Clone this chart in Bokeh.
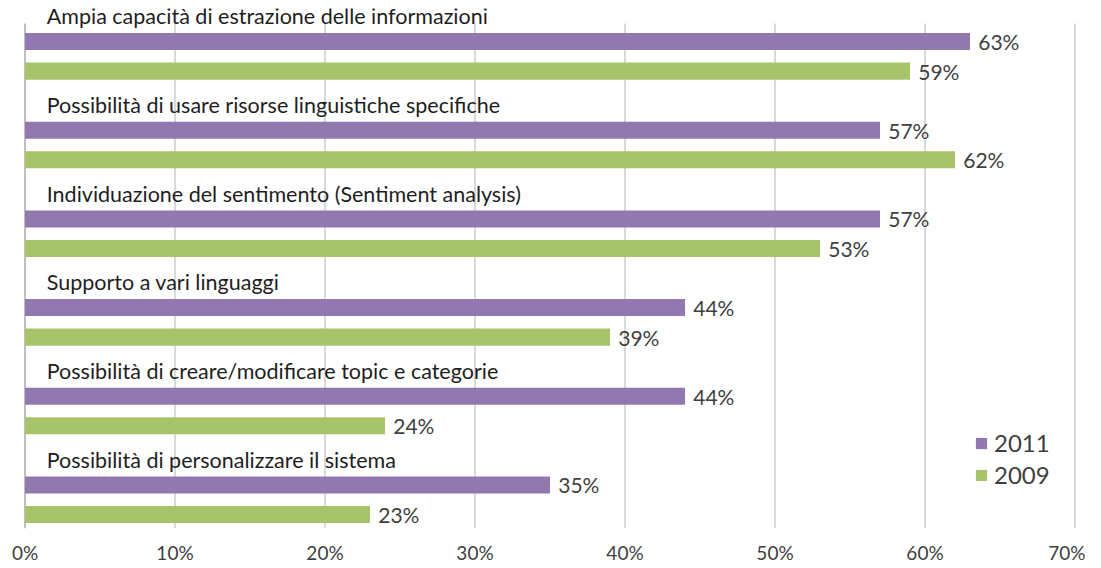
from bokeh.plotting import figure
from bokeh.models import (ColumnDataSource, Range1d, FixedTicker, PrintfTickFormatter,
                          Legend, LegendItem)
from bokeh.core.properties import value
from bokeh.embed import file_html
from bokeh.resources import INLINE

# ---- data ----
categories = [
    "Ampia capacità di estrazione delle informazioni",
    "Possibilità di usare risorse linguistiche specifiche",
    "Individuazione del sentimento (Sentiment analysis)",
    "Supporto a vari linguaggi",
    "Possibilità di creare/modificare topic e categorie",
    "Possibilità di personalizzare il sistema",
]
values_2011 = [63, 57, 57, 44, 44, 35]
values_2009 = [59, 62, 53, 39, 24, 23]
series_names = ["2011", "2009"]
x_ticks = [0, 10, 20, 30, 40, 50, 60, 70]

PURPLE = "#9179B0"
GREEN = "#A8C46A"
FONT = "Lato"

idx = list(range(len(categories)))
off = 0.1667
src11 = ColumnDataSource(dict(
    y=[i - off for i in idx], v=values_2011,
    lx=[v + 0.55 for v in values_2011], lab=[f"{v}%" for v in values_2011]))
src09 = ColumnDataSource(dict(
    y=[i + off for i in idx], v=values_2009,
    lx=[v + 0.55 for v in values_2009], lab=[f"{v}%" for v in values_2009]))
srccat = ColumnDataSource(dict(y=[i - 0.45 for i in idx], x=[1.45] * len(idx), t=categories))

W, H = 1085, 566
p = figure(width=W, height=H, output_backend="svg", toolbar_location=None,
           x_range=Range1d(-0.5, 70.5), y_range=Range1d(5.325, -0.5395),
           min_border_left=17, min_border_right=3, min_border_top=8, min_border_bottom=0)
p.outline_line_color = None
p.xgrid.visible = False
p.ygrid.visible = False
p.yaxis.visible = False

# gridlines and left axis line
grid_top = -0.37
p.segment(x0=x_ticks[1:], x1=x_ticks[1:], y0=[grid_top] * 7, y1=[5.325] * 7,
          line_color="#D9D9D9", line_width=2)
p.segment(x0=[0], x1=[0], y0=[grid_top], y1=[5.325], line_color="#BFBFBF", line_width=2)

r11 = p.hbar(y="y", right="v", left=0, height=0.192, source=src11,
             fill_color=PURPLE, line_color=None)
r09 = p.hbar(y="y", right="v", left=0, height=0.192, source=src09,
             fill_color=GREEN, line_color=None)

p.text(x="lx", y="y", text="lab", source=src11, text_font=value(FONT),
       text_font_size="21px", text_color="#404040", text_baseline="middle")
p.text(x="lx", y="y", text="lab", source=src09, text_font=value(FONT),
       text_font_size="21px", text_color="#404040", text_baseline="middle")
p.text(x="x", y="y", text="t", source=srccat, text_font=value(FONT),
       text_font_size="21.5px", text_color="#1E1E1E", text_baseline="middle")

ax = p.xaxis[0]
ax.ticker = FixedTicker(ticks=x_ticks)
ax.formatter = PrintfTickFormatter(format="%d%%")
ax.axis_line_color = None
ax.major_tick_line_color = None
ax.minor_tick_line_color = None
ax.major_label_standoff = 6
ax.major_label_text_font = FONT
ax.major_label_text_font_size = "19px"
ax.major_label_text_color = "#404040"

legend = Legend(items=[LegendItem(label=series_names[0], renderers=[r11]),
                       LegendItem(label=series_names[1], renderers=[r09])],
                location=(957, 39), glyph_width=14, glyph_height=14,
                label_text_font=FONT, label_text_font_size="24px",
                label_text_color="#404040", label_height=24, spacing=3,
                padding=0, margin=0, label_standoff=6,
                border_line_color=None, background_fill_alpha=0)
p.add_layout(legend)

open("out.html", "w").write(file_html(p, INLINE))
